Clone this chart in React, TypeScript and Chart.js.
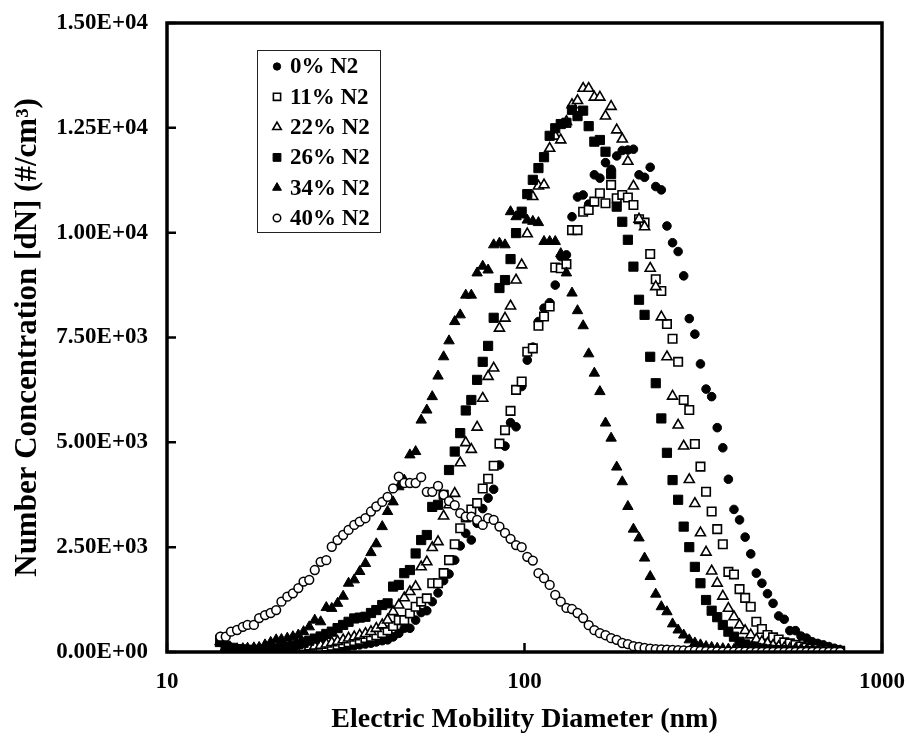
import React, { useEffect, useRef } from "react";
import { Chart, registerables } from "chart.js";
import { drawPoint } from "chart.js/helpers";

Chart.register(...registerables);

// Electric mobility diameter channels (nm)
const diameters = [
  14.1, 14.6, 15.1, 15.7, 16.3, 16.8, 17.5, 18.1, 18.8, 19.5,
  20.2, 20.9, 21.7, 22.5, 23.3, 24.1, 25.0, 25.9, 26.9, 27.9,
  28.9, 30.0, 31.1, 32.2, 33.4, 34.6, 35.9, 37.2, 38.5, 40.0,
  41.4, 42.9, 44.5, 46.1, 47.8, 49.6, 51.4, 53.3, 55.2, 57.3,
  59.4, 61.5, 63.8, 66.1, 68.5, 71.0, 73.7, 76.4, 79.1, 82.0,
  85.1, 88.2, 91.4, 94.7, 98.2, 101.8, 105.5, 109.4, 113.4, 117.6,
  121.9, 126.3, 131.0, 135.8, 140.7, 145.9, 151.2, 156.8, 162.5, 168.5,
  174.7, 181.1, 187.7, 194.6, 201.7, 209.1, 216.7, 224.7, 232.9, 241.4,
  250.3, 259.5, 269.0, 278.8, 289.0, 299.6, 310.6, 322.0, 333.8, 346.0,
  358.7, 371.8, 385.4, 399.5, 414.2, 429.4, 445.1, 461.4, 478.3, 495.8,
  514.0, 532.8, 552.3, 572.5, 593.5, 615.3, 637.8, 661.2, 685.4, 710.5,
  736.5, 763.5,
];

const n0 = [
  370, 150, 80, 50, 30, 20, 15, 15, 15, 15,
  20, 20, 25, 30, 35, 40, 50, 55, 65, 75,
  85, 100, 110, 130, 150, 170, 190, 210, 240, 270,
  290, 360, 445, 565, 565, 760, 940, 985, 1200, 1410,
  1700, 1860, 2190, 2530, 2830, 2670, 3070, 3420, 3670, 3880,
  4460, 4910, 5470, 5370, 6330, 6960, 7270, 7880, 8200, 8330,
  8750, 9430, 9470, 10380, 10850, 10900, 10680, 11380, 11300, 11670,
  11510, 11830, 11960, 11970, 11990, 11380, 11320, 11560, 11100, 11020,
  10160, 9760, 9550, 8970, 7950, 7580, 6870, 6270, 6090, 5350,
  4870, 4120, 3400, 3150, 2740, 2340, 1880, 1640, 1390, 1160,
  860, 780, 510, 510, 380, 330, 245, 205, 170, 130,
  90, 50,
];

const n11 = [
  250, 90, 50, 30, 20, 20, 20, 20, 20, 25,
  30, 35, 40, 50, 55, 65, 80, 90, 110, 130,
  150, 170, 200, 230, 260, 290, 330, 360, 400, 450,
  520, 620, 760, 760, 920, 1080, 1200, 1280, 1640, 1640,
  1880, 2190, 2570, 2950, 3210, 3400, 3550, 3900, 4130, 4440,
  4970, 5290, 5750, 6250, 6450, 7160, 7240, 7780, 8000, 8240,
  9170, 9150, 9250, 10060, 10060, 10500, 10540, 10740, 10940, 10700,
  11140, 10820, 10900, 10840, 10660, 10320, 10240, 9490, 8890, 8610,
  7820, 7470, 6920, 6010, 5770, 4960, 4420, 3820, 3350, 2930,
  2570, 1910, 1850, 1500, 1290, 1080, 720, 550, 405, 350,
  300, 230, 205, 170, 130, 100, 80, 70, 60, 50,
  40, 30,
];

const n22 = [
  250, 100, 60, 40, 30, 30, 30, 30, 35, 40,
  45, 50, 60, 70, 80, 100, 120, 140, 160, 190,
  220, 250, 290, 330, 360, 400, 440, 485, 560, 645,
  760, 960, 1120, 1290, 1440, 1560, 2030, 2150, 2490, 2630,
  3240, 3510, 3780, 4510, 4990, 4830, 5360, 6050, 6570, 6770,
  7720, 7960, 8250, 8870, 9230, 9970, 10860, 11110, 11140, 12010,
  12300, 12210, 12650, 13050, 13150, 13440, 13440, 13230, 13230, 12780,
  13010, 12450, 12230, 11700, 11110, 10320, 10140, 9150, 8710, 7990,
  7040, 6100, 5410, 4910, 4110, 3540, 2840, 2380, 1930, 1640,
  1330, 1040, 840, 645, 510, 405, 300, 245, 205, 160,
  130, 100, 80, 65, 55, 45, 40, 35, 30, 25,
  20, 15,
];

const n26 = [
  300, 150, 100, 70, 60, 50, 50, 50, 60, 70,
  80, 100, 120, 150, 180, 220, 270, 320, 370, 430,
  485, 570, 645, 720, 800, 820, 840, 930, 1000, 1120,
  1160, 1560, 1600, 1880, 1955, 2350, 2670, 2790, 3460, 3510,
  3750, 4340, 4780, 5220, 5760, 6010, 6490, 6920, 7300, 7970,
  8680, 8870, 9370, 9990, 10500, 10920, 11260, 11540, 11800, 12310,
  12490, 12590, 12620, 12930, 12780, 12910, 12540, 12170, 12210, 11930,
  11400, 10620, 10260, 9830, 9190, 8400, 8040, 7040, 6410, 5570,
  4750, 4100, 3630, 2990, 2500, 2030, 1640, 1240, 985, 830,
  645, 485, 365, 245, 180, 130, 100, 80, 60, 50,
  40, 35, 30, 25, 20, 20, 15, 15, 10, 10,
  10, 10,
];

const n34 = [
  200, 120, 90, 80, 80, 90, 100, 110, 170, 230,
  290, 300, 330, 365, 405, 485, 600, 760, 720, 1060,
  1040, 1160, 1330, 1640, 1720, 1920, 2110, 2370, 2580, 2990,
  3350, 3580, 3940, 4100, 4700, 4780, 5530, 5770, 6090, 6580,
  7040, 7420, 7880, 8040, 8510, 8510, 9040, 9200, 9110, 9710,
  9750, 9710, 10500, 10380, 10420, 10300, 10270, 10240, 9790, 9790,
  9790, 9500, 9040, 8560, 8140, 7780, 7110, 6650, 6210, 5460,
  5100, 4410, 4060, 3470, 2930, 2720, 2240, 1800, 1380, 1080,
  960, 670, 525, 405, 290, 215, 170, 130, 110, 90,
  80, 70, 60, 50, 45, 40, 35, 30, 25, 25,
  20, 20, 15, 15, 15, 10, 10, 10, 10, 10,
  10, 10,
];

const n40 = [
  365, 365, 485, 525, 600, 645, 645, 810, 880, 930,
  1000, 1200, 1320, 1400, 1525, 1680, 1720, 1955, 2150, 2190,
  2510, 2670, 2790, 2910, 3030, 3110, 3190, 3350, 3470, 3580,
  3700, 3900, 4180, 4030, 4030, 4030, 4170, 3820, 3820, 3960,
  3750, 3600, 3500, 3310, 3230, 3230, 3150, 3030, 3190, 3150,
  2990, 2840, 2700, 2550, 2500, 2270, 2180, 1880, 1760, 1600,
  1360, 1200, 1050, 1025, 930, 810, 640, 520, 450, 400,
  330, 290, 215, 190, 140, 120, 95, 80, 70, 60,
  55, 50, 45, 40, 35, 30, 25, 20, 15, 15,
  10, 10, 10, 10, 10, 5, 5, 5, 5, 5,
  5, 5, 5, 5, 5, 5, 5, 5, 5, 5,
  5, 5,
];

const seriesLabels = ["0% N2", "11% N2", "22% N2", "26% N2", "34% N2", "40% N2"];
const seriesValues = [n0, n11, n22, n26, n34, n40];
const yTicks = [0, 2500, 5000, 7500, 10000, 12500, 15000];
const xTicks = [10, 100, 1000];

const FONT = "'Liberation Serif', 'Times New Roman', serif";

const markerStyles = [
  { pointStyle: "circle", radius: 4.3, fill: "#000", border: 1 },
  { pointStyle: "rect", radius: 6.0, fill: "#fff", border: 1.6 },
  { pointStyle: "triangle", radius: 5.8, fill: "#fff", border: 1.6 },
  { pointStyle: "rect", radius: 6.5, fill: "#000", border: 1 },
  { pointStyle: "triangle", radius: 6.0, fill: "#000", border: 1 },
  { pointStyle: "circle", radius: 4.4, fill: "#fff", border: 1.5 },
];

function fmtE(v: number): string {
  if (v === 0) return "0.00E+00";
  const exp = Math.floor(Math.log10(v) + 1e-9);
  const mant = v / Math.pow(10, exp);
  return mant.toFixed(2) + "E+" + String(exp).padStart(2, "0");
}

function zeroPad(s: any) {
  s.paddingTop = 0;
  s.paddingBottom = 0;
  s.paddingLeft = 0;
  s.paddingRight = 0;
}

const framePlugin = {
  id: "frameAndLegend",
  afterDatasetsDraw(chart: any) {
    const { ctx, chartArea: a, scales } = chart;
    ctx.save();
    ctx.strokeStyle = "#000";
    ctx.lineWidth = 3.5;
    ctx.strokeRect(a.left, a.top, a.right - a.left, a.bottom - a.top);
    ctx.lineWidth = 2.5;
    ctx.beginPath();
    for (const t of yTicks) {
      const y = scales.y.getPixelForValue(t);
      ctx.moveTo(a.left, y);
      ctx.lineTo(a.left + 9, y);
    }
    for (const t of xTicks) {
      const x = scales.x.getPixelForValue(t);
      ctx.moveTo(x, a.bottom);
      ctx.lineTo(x, a.bottom - 9);
    }
    ctx.stroke();

    // legend box
    const bx = 257, by = 50, bw = 123, bh = 182;
    ctx.fillStyle = "#fff";
    ctx.fillRect(bx, by, bw, bh);
    ctx.lineWidth = 1;
    ctx.strokeStyle = "#222";
    ctx.strokeRect(bx + 0.5, by + 0.5, bw, bh);
    chart.data.datasets.forEach((ds: any, k: number) => {
      const y = 66.5 + k * 30.3;
      const m = markerStyles[k];
      ctx.fillStyle = m.fill;
      ctx.strokeStyle = "#000";
      ctx.lineWidth = m.border;
      drawPoint(ctx, { pointStyle: m.pointStyle, radius: m.radius * 0.85, rotation: 0, borderWidth: m.border } as any, 277, y);
      ctx.fillStyle = "#000";
      ctx.font = `bold 23px ${FONT}`;
      ctx.textBaseline = "middle";
      ctx.textAlign = "left";
      ctx.fillText(ds.label, 290, y + 1);
    });
    ctx.restore();
  },
};

export default function App() {
  const canvasRef = useRef<HTMLCanvasElement | null>(null);

  useEffect(() => {
    if (!canvasRef.current) return;
    const datasets = seriesLabels.map((label, k) => ({
      label,
      data: diameters.map((d, i) => ({ x: d, y: seriesValues[k][i] })),
      showLine: false,
      pointStyle: markerStyles[k].pointStyle,
      pointRadius: markerStyles[k].radius,
      pointHoverRadius: markerStyles[k].radius,
      pointBackgroundColor: markerStyles[k].fill,
      pointBorderColor: "#000",
      pointBorderWidth: markerStyles[k].border,
      order: seriesLabels.length - 1 - k,
    }));

    const chart = new Chart(canvasRef.current, {
      type: "scatter",
      data: { datasets },
      plugins: [framePlugin],
      options: {
        animation: false,
        responsive: false,
        events: [],
        layout: { padding: { top: 23, right: 27, bottom: 0, left: 0 } },
        plugins: {
          legend: { display: false },
          tooltip: { enabled: false },
        },
        scales: {
          x: {
            type: "logarithmic",
            min: 10,
            max: 1000,
            afterBuildTicks: (s: any) => {
              s.ticks = xTicks.map((v) => ({ value: v }));
            },
            afterFit: (s: any) => {
              s.height = 88;
              zeroPad(s);
            },
            grid: { display: false, drawTicks: false },
            border: { display: false },
            ticks: {
              autoSkip: false,
              maxRotation: 0,
              padding: 16,
              color: "#000",
              font: { family: FONT, size: 23, weight: "bold" },
              callback: (v: any) => String(v),
            },
            title: {
              display: true,
              text: "Electric Mobility Diameter (nm)",
              color: "#000",
              font: { family: FONT, size: 28, weight: "bold" },
              padding: { top: 0, bottom: 3 },
            },
          },
          y: {
            type: "linear",
            min: 0,
            max: 15000,
            afterBuildTicks: (s: any) => {
              s.ticks = yTicks.map((v) => ({ value: v }));
            },
            afterFit: (s: any) => {
              s.width = 167;
              zeroPad(s);
            },
            grid: { display: false, drawTicks: false },
            border: { display: false },
            ticks: {
              padding: 19,
              color: "#000",
              font: { family: FONT, size: 23, weight: "bold" },
              callback: (v: any) => fmtE(Number(v)),
            },
            title: {
              display: true,
              text: "Number Concentration [dN] (#/cm³)",
              color: "#000",
              font: { family: FONT, size: 31, weight: "bold" },
              padding: { top: 9, bottom: 0 },
            },
          },
        },
      } as any,
    });
    return () => chart.destroy();
  }, []);

  return (
    <div style={{ position: "absolute", left: 0, top: 0, width: 909, height: 740, background: "#fff" }}>
      <canvas ref={canvasRef} width={909} height={740} style={{ width: 909, height: 740, display: "block" }} />
    </div>
  );
}
